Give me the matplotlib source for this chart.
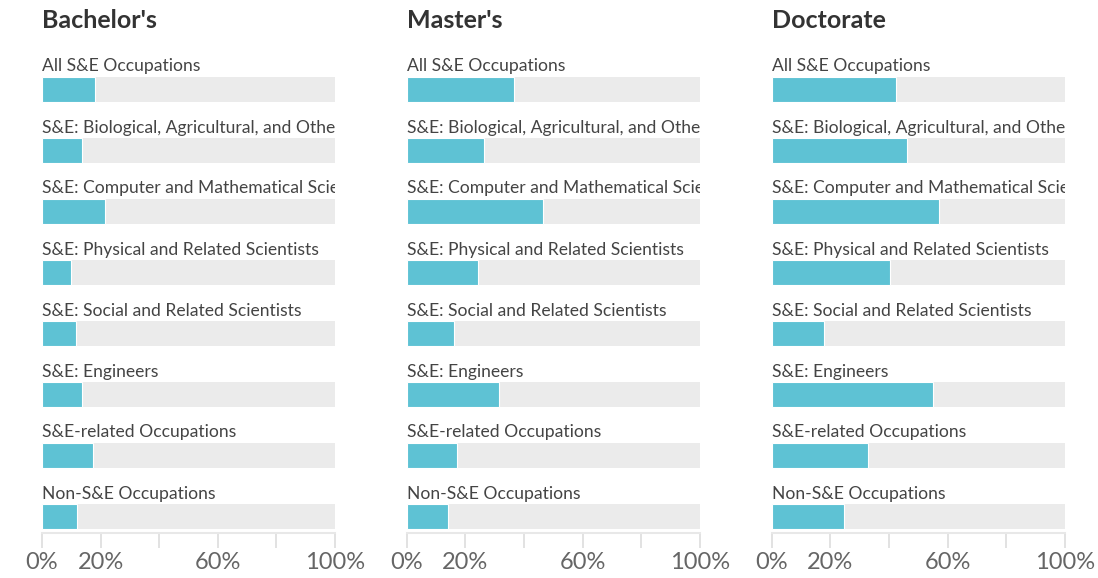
import matplotlib
matplotlib.use("Agg")
import matplotlib.pyplot as plt

plt.rcParams["font.family"] = ["Lato", "DejaVu Sans"]

TEAL = "#5ec2d4"
GREY = "#ebebeb"

categories = [
    "All S&E Occupations",
    "S&E: Biological, Agricultural, and Other Life Scientists",
    "S&E: Computer and Mathematical Scientists",
    "S&E: Physical and Related Scientists",
    "S&E: Social and Related Scientists",
    "S&E: Engineers",
    "S&E-related Occupations",
    "Non-S&E Occupations",
]

degrees = ["Bachelor's", "Master's", "Doctorate"]

# share (%) per degree level
bachelors = [18.1, 13.8, 21.6, 9.8, 11.7, 13.5, 17.3, 12.0]
masters = [36.7, 26.5, 46.4, 24.4, 16.2, 31.4, 17.3, 14.1]
doctorate = [42.3, 46.2, 57.2, 40.4, 17.7, 55.1, 32.7, 24.8]

tick_vals = [0, 20, 40, 60, 80, 100]
tick_labels = ["0%", "20%", "", "60%", "", "100%"]

W, H = 1098, 578
fig = plt.figure(figsize=(W / 100, H / 100), dpi=100)

lefts = [42, 406.7, 771.7]
width = 293
top_px, bottom_px = 50, 533
row0, step = 89.5, 61

for left, title, vals in zip(lefts, degrees, [bachelors, masters, doctorate]):
    ax = fig.add_axes([left / W, 1 - bottom_px / H, width / W, (bottom_px - top_px) / H])
    ypos = list(range(len(categories)))
    ax.barh(ypos, [100] * len(ypos), height=25 / step, color=GREY, left=0)
    ax.barh(ypos, vals, height=25 / step, color=TEAL, edgecolor="white", linewidth=0.8)
    # labels are cut at the right edge of the panel, as in the original
    for y, lab in zip(ypos, categories):
        ax.text(0, y - 18 / step, lab, ha="left", va="baseline", fontsize=12.6,
                color="#444444", clip_on=True)
    ax.text(0, (21 - row0) / step, title, ha="left", va="center", fontsize=18,
            fontweight="bold", color="#333333", clip_on=False)

    ax.set_xlim(0, 100)
    ax.set_ylim((bottom_px - row0) / step, -(row0 - top_px) / step)
    for s in ["top", "left", "right"]:
        ax.spines[s].set_visible(False)
    ax.spines["bottom"].set_color("#e8e8e8")
    ax.spines["bottom"].set_linewidth(1.5)
    ax.set_yticks([])
    ax.set_xticks(tick_vals)
    ax.set_xticklabels(tick_labels)
    ax.tick_params(axis="x", length=11, width=1.2, color="#dddddd",
                   labelsize=17, labelcolor="#666666", pad=3)

plt.savefig("out.png", dpi=100)
plt.close()
